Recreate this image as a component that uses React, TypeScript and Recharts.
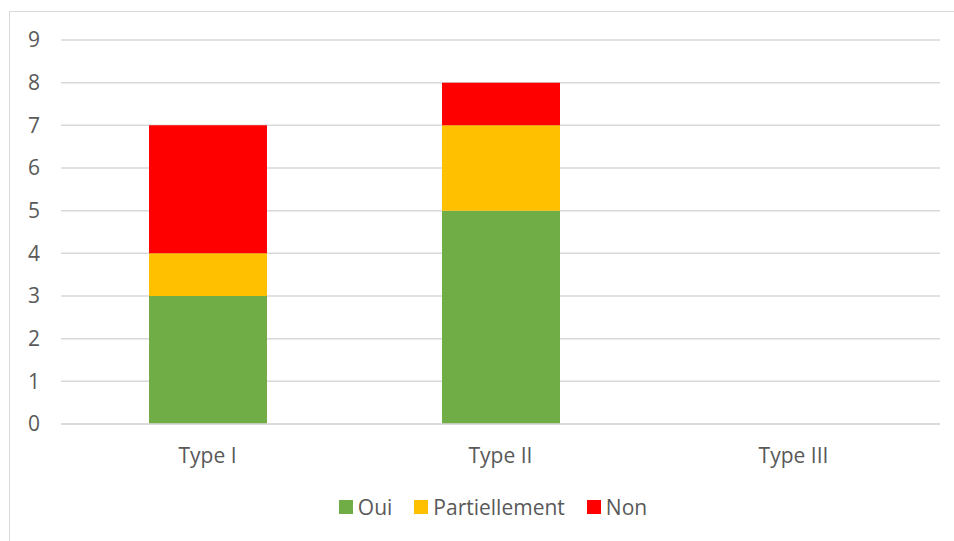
import React from "react";
import { BarChart, Bar, XAxis, YAxis, CartesianGrid } from "recharts";

const categories = ["Type I", "Type II", "Type III"];
const oui = [3, 5, 0];
const partiellement = [1, 2, 0];
const non = [3, 1, 0];
const yTicks = [0, 1, 2, 3, 4, 5, 6, 7, 8, 9];

const seriesInfo = [
  { key: "oui", name: "Oui", color: "#70AD47" },
  { key: "partiellement", name: "Partiellement", color: "#FFC000" },
  { key: "non", name: "Non", color: "#FF0000" },
];

const data = categories.map((c, i) => ({
  name: c,
  oui: oui[i],
  partiellement: partiellement[i],
  non: non[i],
}));

const FONT = "'Open Sans', sans-serif";
const TEXT = "#595959";
const FS = 21;

const LegendBox = () => (
  <div style={{ position: "absolute", left: 16, top: 493, width: 954, display: "flex", justifyContent: "center", alignItems: "center", fontFamily: FONT, fontSize: FS, color: TEXT, lineHeight: "28px" }}>
    {seriesInfo.map((s, i) => (
      <div key={s.key} style={{ display: "flex", alignItems: "center", marginLeft: i === 0 ? 0 : 22 }}>
        <span style={{ display: "inline-block", width: 14, height: 14, background: s.color, marginRight: 5 }} />
        <span>{s.name}</span>
      </div>
    ))}
  </div>
);

export default function App() {
  return (
    <div style={{ position: "absolute", left: 0, top: 0, width: 954, height: 541, background: "#fff", overflow: "hidden" }}>
      <div style={{ position: "absolute", left: 9, top: 11, width: 1000, height: 600, borderLeft: "1px solid #d9d9d9", borderTop: "1px solid #d9d9d9" }} />
      <div style={{ position: "absolute", left: 0, top: 0 }}>
        <BarChart width={954} height={541} data={data} margin={{ top: 40, right: 14, bottom: 57, left: 0 }} barSize={118}>
          <CartesianGrid vertical={false} stroke="#d9d9d9" strokeWidth={1.5} />
          <XAxis
            dataKey="name"
            axisLine={{ stroke: "#d9d9d9", strokeWidth: 1.5 }}
            tickLine={false}
            tickSize={0}
            tickMargin={24}
            tick={{ fill: TEXT, fontSize: FS, fontFamily: FONT }}
            height={60}
          />
          <YAxis
            width={61}
            domain={[0, 9]}
            ticks={yTicks}
            interval={0}
            axisLine={false}
            tickLine={false}
            tickSize={0}
            tickMargin={21}
            tick={{ fill: TEXT, fontSize: FS, fontFamily: FONT }}
          />
          {seriesInfo.map((s) => (
            <Bar key={s.key} dataKey={s.key} name={s.name} stackId="a" fill={s.color} isAnimationActive={false} />
          ))}
        </BarChart>
      </div>
      <LegendBox />
    </div>
  );
}
